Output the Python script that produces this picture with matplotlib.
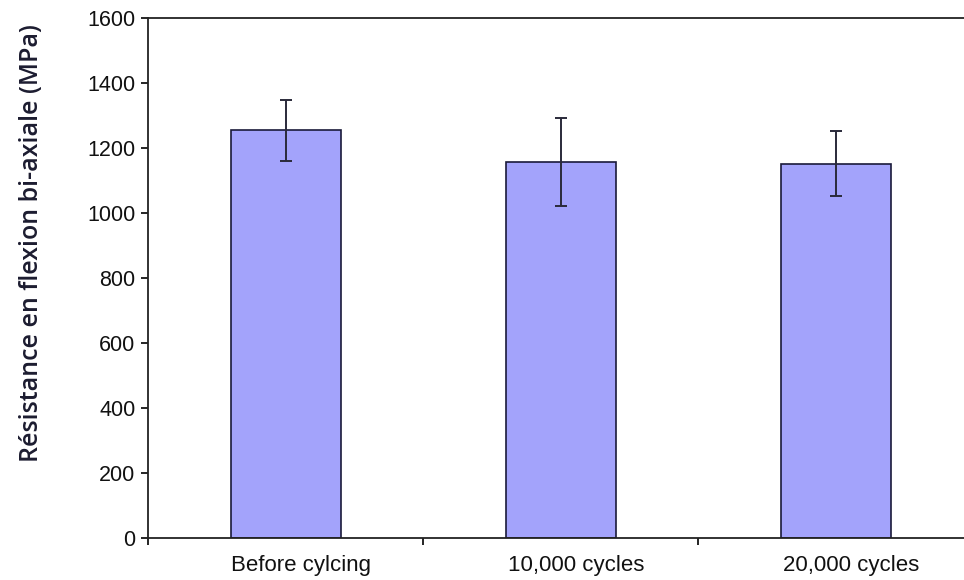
import numpy as np
import matplotlib.pyplot as plt

# Résistance en flexion bi-axiale (MPa) avant / après cyclage
categories = ['Before cylcing', '10,000 cycles', '20,000 cycles']
resistance = [1254, 1157, 1151]
erreur = [94, 134, 100]

fig = plt.figure(figsize=(9.64, 5.8), dpi=100)
# l'axe dépasse à droite de l'image, comme dans l'original
ax = fig.add_axes([148 / 964, 1 - 538 / 580, 825 / 964, 520 / 580])

x = np.arange(len(categories))
ax.bar(x, resistance, width=0.4, color='#a3a3fb', edgecolor='#1a1a3a', linewidth=1.2,
       zorder=2)
ax.errorbar(x, resistance, yerr=erreur, fmt='none', ecolor='#2a2a3a', elinewidth=1.4,
            capsize=4, capthick=1.4, zorder=3)

ax.set_xlim(-0.5, 2.5)
ax.set_ylim(0, 1600)
ax.set_yticks(np.arange(0, 1601, 200))
ax.set_xticks([-0.5, 0.5, 1.5, 2.5])
ax.set_xticklabels([])
# les étiquettes sont un peu décalées vers la droite dans l'original
ax.set_xticks(x + 0.058, minor=True)
ax.set_xticklabels(categories, minor=True, fontsize=16, family='Liberation Sans',
                   color='#111111')
ax.tick_params(axis='x', which='minor', length=0, pad=12)
ax.tick_params(axis='x', which='major', direction='out', length=5, width=1.2)
ax.tick_params(axis='y', direction='out', length=5, width=1.2, pad=4)
for lab in ax.get_yticklabels():
    lab.set_fontsize(15.5)
    lab.set_family('Liberation Sans')
    lab.set_color('#111111')

for s in ['left', 'bottom', 'top']:
    ax.spines[s].set_linewidth(1.3)
    ax.spines[s].set_color('#222222')
ax.spines['right'].set_visible(False)

fig.text(0.033, 1 - 243 / 580, 'Résistance en flexion bi-axiale (MPa)', rotation=90,
         ha='center', va='center', fontsize=18, family='Open Sans', weight='semibold',
         color='#1c1c30')

fig.savefig('out.png', dpi=100)
